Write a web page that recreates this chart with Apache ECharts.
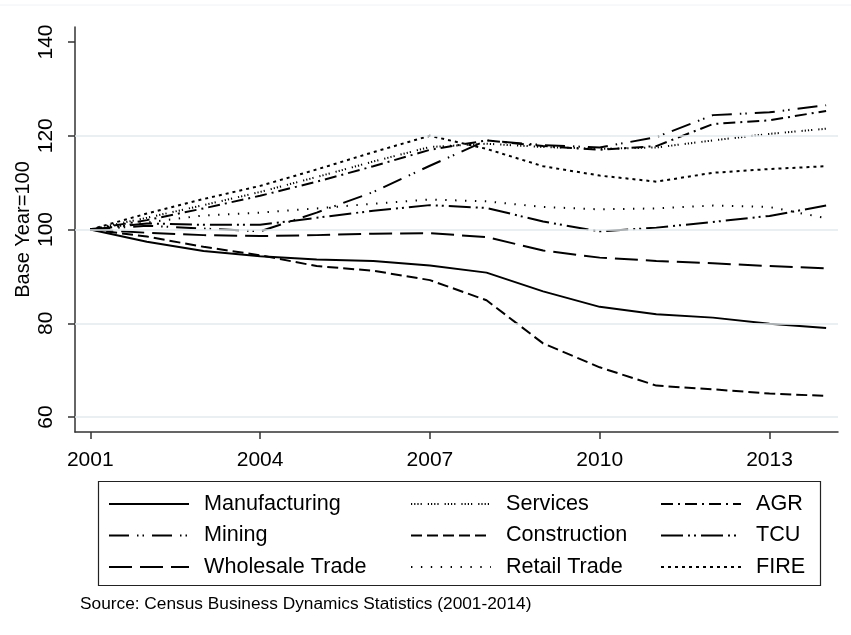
<!DOCTYPE html>
<html>
<head>
<meta charset="utf-8">
<script src="https://cdn.jsdelivr.net/npm/echarts@6/dist/echarts.min.js"></script>
<style>
  html, body { margin: 0; padding: 0; background: #fff; }
  #chart { width: 851px; height: 635px; }
</style>
</head>
<body>
<div id="chart"></div>
<script>
// Establishment counts by sector, indexed to 2001 = 100
const years = [2001, 2002, 2003, 2004, 2005, 2006, 2007, 2008, 2009, 2010, 2011, 2012, 2013, 2014];
const manufacturing = [100, 97.4, 95.4, 94.3, 93.6, 93.3, 92.3, 90.8, 86.8, 83.5, 81.9, 81.2, 79.9, 79.0];
const mining        = [100, 100.8, 100.2, 99.6, 103.6, 108.0, 113.6, 119.0, 118.0, 117.5, 119.7, 124.4, 125.0, 126.5];
const wholesale     = [100, 99.3, 98.8, 98.6, 98.8, 99.1, 99.2, 98.4, 95.5, 94.0, 93.3, 92.8, 92.2, 91.7];
const services      = [100, 102.5, 105.2, 108.0, 111.2, 114.5, 117.6, 118.3, 117.6, 117.2, 117.5, 119.0, 120.4, 121.5];
const construction  = [100, 98.5, 96.3, 94.5, 92.2, 91.2, 89.2, 84.9, 75.7, 70.6, 66.7, 65.9, 65.0, 64.5];
const retail        = [100, 101.5, 103.0, 103.6, 104.5, 105.5, 106.4, 106.0, 104.8, 104.3, 104.5, 105.1, 104.8, 102.4];
const agr           = [100, 102.0, 104.5, 107.2, 110.2, 113.5, 117.0, 119.0, 117.8, 117.0, 117.8, 122.5, 123.3, 125.3];
const tcu           = [100, 101.3, 101.0, 101.0, 102.5, 104.0, 105.2, 104.6, 101.7, 99.6, 100.4, 101.6, 102.9, 105.1];
const fire          = [100, 103.4, 106.5, 109.3, 112.8, 116.5, 120.0, 117.2, 113.5, 111.5, 110.2, 112.1, 112.9, 113.5];

const xTicks = [2001, 2004, 2007, 2010, 2013];
const yTicks = [60, 80, 100, 120, 140];
const gridValues = [60, 80, 100, 120];

const legendCols = [
  ['Manufacturing', 'Mining', 'Wholesale Trade'],
  ['Services', 'Construction', 'Retail Trade'],
  ['AGR', 'TCU', 'FIRE']
];

// line patterns, one per sector
const sectors = [
  { name: 'Manufacturing',   values: manufacturing, dash: 'solid' },
  { name: 'Mining',          values: mining,        dash: [20, 8, 1.5, 4, 1.5, 8] },
  { name: 'Wholesale Trade', values: wholesale,     dash: [23, 8] },
  { name: 'Services',        values: services,      dash: [1.2, 2, 1.2, 2, 1.2, 2, 1.2, 6] },
  { name: 'Construction',    values: construction,  dash: [11, 5] },
  { name: 'Retail Trade',    values: retail,        dash: [1.4, 8.5] },
  { name: 'AGR',             values: agr,           dash: [12, 5, 2, 5] },
  { name: 'TCU',             values: tcu,           dash: [22, 5, 2, 4, 2, 5] },
  { name: 'FIRE',            values: fire,          dash: [3, 4] }
];

const font = 'Arial, "Liberation Sans", sans-serif';

const series = sectors.map(s => ({
  name: s.name,
  type: 'line',
  data: years.map((y, i) => [y, s.values[i]]),
  symbol: 'none',
  smooth: false,
  z: 3,
  lineStyle: { color: '#000', width: 2, type: s.dash },
  itemStyle: { color: '#000' }
}));

// horizontal reference lines behind the sector lines
series.unshift({
  name: 'grid',
  type: 'line',
  data: [],
  z: 1,
  silent: true,
  markLine: {
    silent: true,
    symbol: 'none',
    label: { show: false },
    lineStyle: { color: '#e3ebee', width: 1.5, type: 'solid' },
    data: gridValues.map(v => ({ yAxis: v }))
  }
});

const legendLeft = [108, 410, 660];
const legends = legendCols.map((names, c) => ({
  orient: 'vertical',
  left: legendLeft[c],
  top: 493,
  padding: 0,
  itemWidth: 80,
  itemHeight: 14,
  itemGap: 9.5,
  data: names,
  selectedMode: false,
  itemStyle: { opacity: 0 },
  textStyle: { fontFamily: font, fontSize: 21.6, color: '#000', padding: [0, 0, 0, 10] }
}));

const chart = echarts.init(document.getElementById('chart'), null, { renderer: 'canvas' });
chart.setOption({
  animation: false,
  backgroundColor: '#fff',
  grid: { left: 75, top: 27, right: 13, bottom: 203, containLabel: false },
  xAxis: {
    type: 'value',
    min: 2000.73,
    max: 2014.21,
    axisLine: { show: true, onZero: false, lineStyle: { color: '#333', width: 1.5 } },
    axisTick: { show: true, length: 7, customValues: xTicks, lineStyle: { color: '#333', width: 1.5 } },
    axisLabel: {
      customValues: xTicks,
      formatter: v => String(v),
      fontFamily: font, fontSize: 21, color: '#000', margin: 18
    },
    splitLine: { show: false }
  },
  yAxis: {
    type: 'value',
    min: 56.8,
    max: 143.2,
    name: 'Base Year=100',
    nameLocation: 'middle',
    nameGap: 42,
    nameRotate: 90,
    nameMoveOverlap: false,
    nameTextStyle: { fontFamily: font, fontSize: 20, color: '#000' },
    axisLine: { show: true, onZero: false, lineStyle: { color: '#333', width: 1.5 } },
    axisTick: { show: true, length: 7, customValues: yTicks, lineStyle: { color: '#333', width: 1.5 } },
    axisLabel: { customValues: yTicks, rotate: 90, fontFamily: font, fontSize: 21, color: '#000', margin: 18 },
    splitLine: { show: false }
  },
  legend: legends,
  graphic: [
    {
      type: 'line',
      shape: { x1: 0, y1: 5, x2: 851, y2: 5 },
      style: { stroke: '#eef2f4', lineWidth: 1 },
      silent: true
    },
    {
      type: 'rect',
      shape: { x: 98.5, y: 481.5, width: 722, height: 104 },
      style: { fill: 'none', stroke: '#222', lineWidth: 1.2 },
      silent: true
    },
    {
      type: 'text',
      left: 80,
      top: 596,
      style: {
        text: 'Source: Census Business Dynamics Statistics (2001-2014)',
        fontFamily: font,
        fontSize: 17.3,
        fill: '#000'
      },
      silent: true
    }
  ],
  series: series
});
</script>
</body>
</html>
